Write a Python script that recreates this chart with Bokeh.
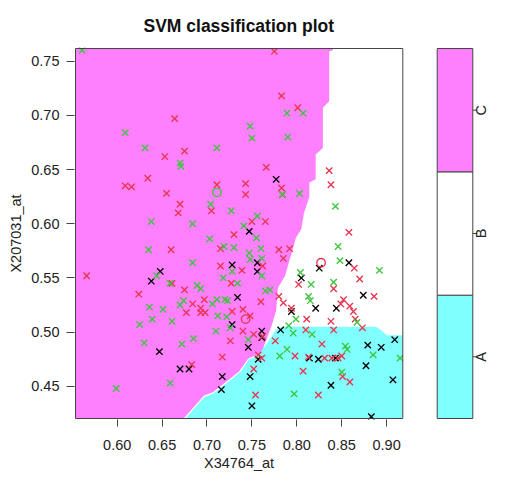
import math
from bokeh.plotting import figure
from bokeh.models import FixedTicker, Range1d, Title
from bokeh.core.properties import value
from bokeh.embed import file_html
from bokeh.resources import INLINE

FONT = "Liberation Sans"
TXT = "#222222"
EDGE = "#444444"

# axis extents / ticks of the classification panel
x_lo, x_hi = 0.5536, 0.9180
y_lo, y_hi = 0.4203, 0.7617
x_ticks = [0.60, 0.65, 0.70, 0.75, 0.80, 0.85, 0.90]
y_ticks = [0.45, 0.50, 0.55, 0.60, 0.65, 0.70, 0.75]

classes = ["A", "B", "C"]
region_colors = ["#80FFFF", "#FFFFFF", "#FF80FF"]
point_colors = ["#000000", "#E8354F", "#3EC43E"]

# decision boundary C | B, from top edge down to the A junction
cb_x = [0.840, 0.840, 0.836, 0.836, 0.829, 0.829, 0.821, 0.821, 0.814, 0.814, 0.808,
        0.805, 0.799, 0.796, 0.790, 0.787, 0.779, 0.777, 0.772, 0.768, 0.762, 0.757]
cb_y = [0.7617, 0.760, 0.759, 0.713, 0.707, 0.670, 0.664, 0.641, 0.638, 0.625, 0.610,
        0.595, 0.587, 0.578, 0.561, 0.552, 0.541, 0.520, 0.506, 0.497, 0.484, 0.479]
# boundary A | C, from the junction down to the bottom edge
ac_x = [0.757, 0.746, 0.737, 0.730, 0.707, 0.697, 0.675]
ac_y = [0.479, 0.475, 0.464, 0.459, 0.444, 0.441, 0.4203]
# boundary A | B, from the junction to the right edge
ab_x = [0.757, 0.768, 0.777, 0.784, 0.888, 0.893, 0.900, 0.918]
ab_y = [0.479, 0.491, 0.5025, 0.505, 0.505, 0.5025, 0.497, 0.497]

# class A (black) support vectors
a_x = [0.777, 0.747, 0.756, 0.728, 0.648, 0.638, 0.756, 0.734, 0.728, 0.647, 0.670, 0.680,
       0.717, 0.716, 0.748, 0.746, 0.761, 0.761, 0.757, 0.794, 0.805, 0.821, 0.782, 0.814,
       0.858, 0.825, 0.874, 0.844, 0.879, 0.894, 0.909, 0.843, 0.824, 0.877, 0.907, 0.838,
       0.750, 0.883]
a_y = [0.641, 0.593, 0.564, 0.562, 0.556, 0.547, 0.556, 0.532, 0.507, 0.482, 0.466, 0.466,
       0.459, 0.447, 0.459, 0.486, 0.501, 0.495, 0.475, 0.519, 0.550, 0.522, 0.502, 0.476,
       0.564, 0.559, 0.534, 0.522, 0.488, 0.486, 0.493, 0.476, 0.475, 0.469, 0.456, 0.451,
       0.432, 0.422]

# class B (red) support vectors
b_x = [0.775, 0.664, 0.653, 0.675, 0.609, 0.616, 0.634, 0.655, 0.670, 0.668, 0.711, 0.705,
       0.743, 0.743, 0.730, 0.783, 0.801, 0.766, 0.783, 0.784, 0.836, 0.838, 0.858, 0.750,
       0.765, 0.715, 0.660, 0.715, 0.780, 0.792, 0.785, 0.762, 0.566, 0.624, 0.661, 0.675,
       0.739, 0.727, 0.683, 0.684, 0.677, 0.693, 0.698, 0.697, 0.693, 0.728, 0.740, 0.740,
       0.726, 0.717, 0.760, 0.780, 0.748, 0.752, 0.762, 0.785, 0.794, 0.802, 0.811, 0.810,
       0.776, 0.798, 0.813, 0.757, 0.761, 0.864, 0.870, 0.841, 0.886, 0.852, 0.849, 0.859,
       0.863, 0.838, 0.865, 0.873, 0.841, 0.828, 0.850, 0.846, 0.839, 0.831, 0.807, 0.851,
       0.859, 0.824, 0.754, 0.752]
b_y = [0.759, 0.697, 0.662, 0.667, 0.635, 0.634, 0.642, 0.628, 0.618, 0.610, 0.636, 0.612,
       0.637, 0.627, 0.590, 0.718, 0.707, 0.652, 0.633, 0.627, 0.649, 0.636, 0.592, 0.602,
       0.602, 0.577, 0.576, 0.561, 0.576, 0.577, 0.568, 0.561, 0.552, 0.535, 0.545, 0.539,
       0.557, 0.545, 0.470, 0.526, 0.518, 0.518, 0.518, 0.530, 0.522, 0.519, 0.521, 0.501,
       0.492, 0.477, 0.528, 0.533, 0.515, 0.498, 0.496, 0.527, 0.522, 0.544, 0.512, 0.502,
       0.492, 0.478, 0.477, 0.479, 0.476, 0.559, 0.549, 0.540, 0.533, 0.530, 0.526, 0.524,
       0.519, 0.510, 0.512, 0.504, 0.502, 0.489, 0.478, 0.476, 0.476, 0.476, 0.464, 0.459,
       0.454, 0.442, 0.442, 0.466]

# class C (green) support vectors
c_x = [0.561, 0.609, 0.631, 0.670, 0.671, 0.711, 0.638, 0.684, 0.704, 0.727, 0.741, 0.748,
       0.750, 0.789, 0.807, 0.790, 0.784, 0.803, 0.843, 0.756, 0.755, 0.730, 0.747, 0.760,
       0.748, 0.761, 0.703, 0.719, 0.684, 0.635, 0.644, 0.659, 0.689, 0.693, 0.728, 0.718,
       0.734, 0.636, 0.651, 0.625, 0.639, 0.661, 0.630, 0.672, 0.685, 0.659, 0.599, 0.670,
       0.674, 0.706, 0.711, 0.720, 0.723, 0.712, 0.722, 0.726, 0.710, 0.761, 0.765, 0.770,
       0.746, 0.804, 0.816, 0.813, 0.815, 0.799, 0.791, 0.796, 0.817, 0.789, 0.781, 0.846,
       0.848, 0.892, 0.841, 0.867, 0.885, 0.915, 0.854, 0.856, 0.850, 0.797]
c_y = [0.760, 0.684, 0.670, 0.656, 0.653, 0.670, 0.602, 0.600, 0.618, 0.612, 0.598, 0.690,
       0.679, 0.702, 0.702, 0.680, 0.627, 0.628, 0.616, 0.607, 0.587, 0.578, 0.573, 0.577,
       0.567, 0.568, 0.586, 0.579, 0.564, 0.576, 0.552, 0.545, 0.543, 0.540, 0.556, 0.550,
       0.545, 0.523, 0.521, 0.507, 0.512, 0.510, 0.490, 0.489, 0.494, 0.453, 0.448, 0.525,
       0.529, 0.526, 0.530, 0.530, 0.529, 0.515, 0.514, 0.504, 0.501, 0.552, 0.538, 0.539,
       0.493, 0.555, 0.544, 0.533, 0.529, 0.512, 0.506, 0.499, 0.498, 0.484, 0.478, 0.579,
       0.566, 0.557, 0.546, 0.509, 0.479, 0.476, 0.487, 0.484, 0.463, 0.443]

# non-support-vector observations ("o")
bo_x = [0.743, 0.827]
bo_y = [0.512, 0.564]
co_x = [0.711]
co_y = [0.629]

# layout: one frame holds the panel plus the colour key to its right
W, H = 489, 474
LEFT, TOP, BOTTOM = 74, 47, 55
px_x = (x_hi - x_lo) / 327.3          # data units per pixel
px_y = (y_hi - y_lo) / 370.0
key_lo = x_hi + 34.4 * px_x
key_hi = x_hi + 70.0 * px_x
fx_lo, fx_hi = x_lo - 1 * px_x, x_lo - 1 * px_x + (W - LEFT) * px_x
fy_lo, fy_hi = y_lo - 1 * px_y, y_hi + 1 * px_y

p = figure(width=W, height=H, output_backend="svg", toolbar_location=None,
           x_range=Range1d(fx_lo, fx_hi), y_range=Range1d(fy_lo, fy_hi),
           min_border_left=LEFT, min_border_right=0, min_border_top=TOP, min_border_bottom=BOTTOM,
           title="SVM classification plot")
p.background_fill_color = "white"
p.border_fill_color = "white"
p.outline_line_color = None
p.grid.visible = False

# decision regions
mag_x = [x_lo] + cb_x + ac_x[1:] + [x_lo]
mag_y = [y_hi] + cb_y + ac_y[1:] + [y_lo]
p.patch(mag_x, mag_y, fill_color=region_colors[2], line_color=None)
cy_x = ab_x + [x_hi] + ac_x[::-1][:-1]
cy_y = ab_y + [y_lo] + ac_y[::-1][:-1]
p.patch(cy_x, cy_y, fill_color=region_colors[0], line_color=None)
p.line(ac_x, ac_y, line_color="white", line_width=1.2)

for xs, ys, col in [(a_x, a_y, point_colors[0]), (b_x, b_y, point_colors[1]), (c_x, c_y, point_colors[2])]:
    p.scatter(xs, ys, marker="x", size=9, line_color=col, line_width=1.35)
for xs, ys, col in [(bo_x, bo_y, point_colors[1]), (co_x, co_y, point_colors[2])]:
    p.scatter(xs, ys, marker="circle", size=8.5, fill_color=None, line_color=col, line_width=1.35)

# clip marks at the panel's right edge, then the panel box
p.quad(left=x_hi, right=key_lo - px_x, bottom=fy_lo, top=fy_hi, fill_color="white", line_color=None)
p.quad(left=x_lo, right=x_hi, bottom=y_lo, top=y_hi, fill_color=None, line_color=EDGE, line_width=1)

# colour key (own vertical scale: one unit per class)
n = len(classes)
pad = n / 370.0
p.extra_y_ranges = {"key": Range1d(-pad, n + pad)}
centers = [i + 0.5 for i in range(n)]
p.quad(left=key_lo, right=key_hi, bottom=list(range(n)), top=list(range(1, n + 1)),
       fill_color=region_colors, line_color=EDGE, line_width=1, y_range_name="key")
p.segment(x0=[key_hi] * n, x1=[key_hi + 4.5 * px_x] * n, y0=centers, y1=centers,
          line_color=EDGE, line_width=1, y_range_name="key")
p.text(x=[key_hi + 8.3 * px_x] * n, y=centers, text=classes, angle=math.pi / 2,
       text_align="center", text_baseline="middle", text_font=value(FONT),
       text_font_size="14.5px", text_color=TXT, y_range_name="key")

# main title (left-aligned with offset so that it is centred over the panel box)
p.title.align = "left"
p.title.offset = 69
p.title.standoff = 24
p.title.vertical_align = "bottom"
p.title.text_font = FONT
p.title.text_font_size = "17.5px"
p.title.text_font_style = "bold"
p.title.text_color = "#111111"

# x-axis title, placed as a title below the axis and centred under the panel box
p.add_layout(Title(text="X34764_at", align="left", offset=129.5, standoff=0,
                   text_font=FONT, text_font_size="14.5px", text_font_style="normal",
                   text_color=TXT), "below")

p.xaxis.ticker = FixedTicker(ticks=x_ticks)
p.yaxis.ticker = FixedTicker(ticks=y_ticks)
p.xaxis.major_label_overrides = {t: f"{t:.2f}" for t in x_ticks}
p.yaxis.major_label_overrides = {t: f"{t:.2f}" for t in y_ticks}
p.yaxis.axis_label = "X207031_at"
for ax in (p.xaxis[0], p.yaxis[0]):
    ax.axis_line_color = None
    ax.major_tick_in = 0
    ax.major_tick_out = 8
    ax.major_tick_line_color = EDGE
    ax.minor_tick_line_color = None
    ax.major_label_text_font = FONT
    ax.major_label_text_font_size = "14.5px"
    ax.major_label_text_color = TXT
    ax.axis_label_text_font = FONT
    ax.axis_label_text_font_size = "14.5px"
    ax.axis_label_text_font_style = "normal"
    ax.axis_label_text_color = TXT
p.xaxis.major_tick_out = 7
p.xaxis.major_label_standoff = 13
p.yaxis.major_label_standoff = 7
p.yaxis.axis_label_standoff = 4

open("out.html", "w").write(file_html(p, INLINE))
